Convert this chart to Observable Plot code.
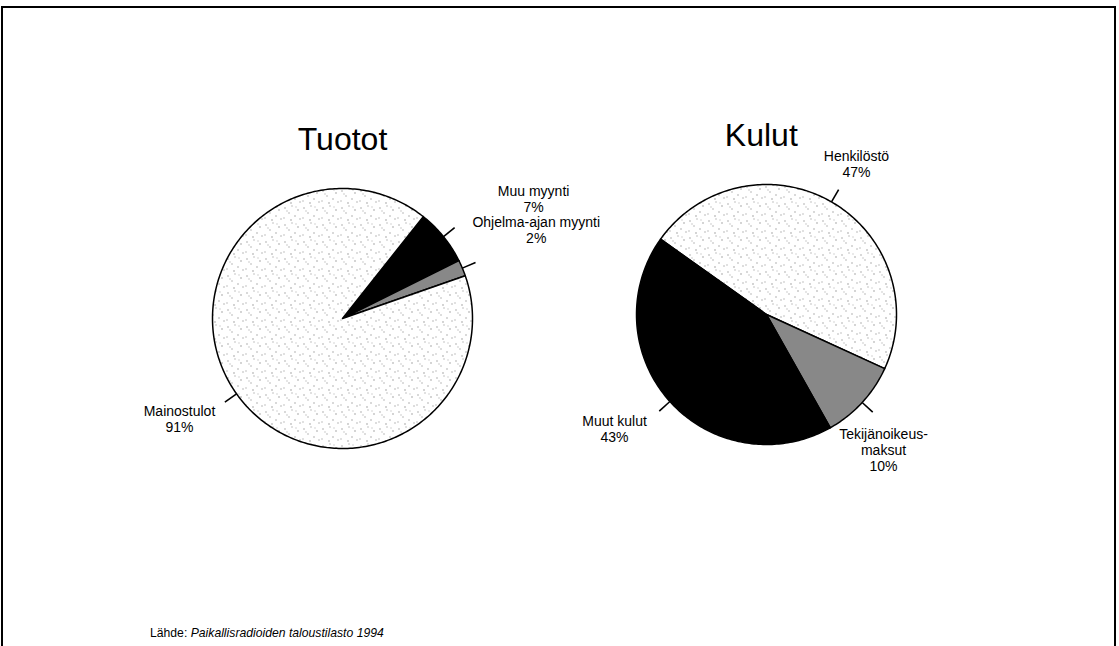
<!DOCTYPE html>
<html>
<head>
<meta charset="utf-8">
<script src="https://cdn.jsdelivr.net/npm/d3@7"></script>
<script src="https://cdn.jsdelivr.net/npm/@observablehq/plot@0.6"></script>
<style>
  html, body { margin: 0; padding: 0; background: #fff; }
  body { width: 1119px; height: 646px; overflow: hidden; position: relative; font-family: "Liberation Sans", Arial, sans-serif; }
  #frame { position: absolute; left: 1px; top: 6px; width: 1115px; height: 700px; border: 2px solid #000; border-bottom: none; box-sizing: border-box; }
  .pie { position: absolute; }
  #caption { position: absolute; left: 150px; top: 626px; font-size: 12.2px; color: #000; white-space: nowrap; }
</style>
</head>
<body>
<svg width="0" height="0" style="position:absolute">
  <defs>
    <pattern id="dots" width="19" height="17" patternUnits="userSpaceOnUse">
      <rect width="19" height="17" fill="#fff"/>
      <rect x="2" y="3" width="1" height="1" fill="#666"/>
      <rect x="9" y="1" width="1" height="1" fill="#888"/>
      <rect x="15" y="5" width="1" height="1" fill="#555"/>
      <rect x="6" y="8" width="1" height="1" fill="#777"/>
      <rect x="12" y="11" width="1" height="1" fill="#666"/>
      <rect x="1" y="13" width="1" height="1" fill="#888"/>
      <rect x="17" y="14" width="1" height="1" fill="#777"/>
      <rect x="8" y="15" width="1" height="1" fill="#555"/>
      <rect x="4" y="6" width="1" height="1" fill="#999"/>
      <rect x="13" y="2" width="1" height="1" fill="#aaa"/>
    </pattern>
    <pattern id="hatch" width="2" height="2" patternUnits="userSpaceOnUse">
      <rect width="2" height="2" fill="#d0d0d0"/>
      <rect x="0" y="0" width="1" height="1" fill="#2a2a2a"/>
      <rect x="1" y="1" width="1" height="1" fill="#555"/>
    </pattern>
  </defs>
</svg>
<div id="frame"></div>
<div id="caption">Lähde: <i>Paikallisradioiden taloustilasto 1994</i></div>
<script>
// ---- data ----
const chartTitles = ["Tuotot", "Kulut"];
const tuototNames = ["Muu myynti", "Ohjelma-ajan myynti", "Mainostulot"];
const tuototValues = [7, 2, 91];
const kulutNames = ["Henkilöstö", "Tekijänoikeus-\nmaksut", "Muut kulut"];
const kulutValues = [47, 10, 43];

// ---- layout / style (not data) ----
const pieLayout = [
  { left: 130, top: 0, start: 38.4, titleX: 0, fills: ["solid", "hatch", "dots"],
    labels: [[1.47, 1.03], [1.49, 0.79], [-1.254, -0.662]] },
  { left: 554, top: -4, start: 305.4, titleX: -0.04, fills: ["dots", "hatch", "solid"],
    labels: [[0.692, 1.269], [0.90, -0.869], [-1.169, -0.769]] }
];

function makePie(title, names, values, cfg) {
  const rad = d => d * Math.PI / 180;
  const items = names.map((n, i) => ({ name: n, value: values[i], kind: cfg.fills[i], lx: cfg.labels[i][0], ly: cfg.labels[i][1] }));
  const arcs = d3.pie().sort(null).value(d => d.value)
    .startAngle(rad(cfg.start)).endAngle(rad(cfg.start) + 2 * Math.PI)(items);
  const slices = arcs.map(a => ({ ...a.data, a0: a.startAngle, a1: a.endAngle, mid: (a.startAngle + a.endAngle) / 2 }));
  const pts = slices.flatMap(s => {
    const n = Math.max(2, Math.ceil((s.a1 - s.a0) / rad(1)));
    const p = [{ name: s.name, kind: s.kind, x: 0, y: 0 }];
    for (let k = 0; k <= n; k++) {
      const t = s.a0 + (s.a1 - s.a0) * k / n;
      p.push({ name: s.name, kind: s.kind, x: Math.sin(t), y: Math.cos(t) });
    }
    p.push({ name: s.name, kind: s.kind, x: 0, y: 0 });
    return p;
  });
  const svg = Plot.plot({
    width: 424, height: 646,
    marginLeft: 82, marginRight: 82, marginTop: 188, marginBottom: 198,
    x: { domain: [-1, 1], axis: null },
    y: { domain: [-1, 1], axis: null },
    color: { type: "ordinal", domain: ["dots", "solid", "hatch"], range: ["url(#dots)", "#000", "url(#hatch)"] },
    style: { overflow: "visible", background: "transparent", fontFamily: "'Liberation Sans', Arial, sans-serif", color: "#000" },
    marks: [
      Plot.line(pts, { x: "x", y: "y", z: "name", fill: "kind", stroke: "#000", strokeWidth: 1.5, strokeLinejoin: "round" }),
      Plot.link(slices, {
        x1: d => Math.sin(d.mid), y1: d => Math.cos(d.mid),
        x2: d => 1.11 * Math.sin(d.mid), y2: d => 1.11 * Math.cos(d.mid),
        stroke: "#000", strokeWidth: 1.6
      }),
      Plot.text(slices, {
        x: "lx", y: "ly", text: d => `${d.name}\n${d.value}%`,
        fontSize: 14, lineAnchor: "top", lineHeight: 1.15, textAnchor: "middle", fill: "#000"
      }),
      Plot.text([title], { x: cfg.titleX, y: 1.30, text: d => d, fontSize: 32, lineAnchor: "bottom", textAnchor: "middle", fill: "#000" })
    ]
  });
  svg.classList.add("pie");
  svg.style.left = cfg.left + "px";
  svg.style.top = cfg.top + "px";
  document.body.appendChild(svg);
}

makePie(chartTitles[0], tuototNames, tuototValues, pieLayout[0]);
makePie(chartTitles[1], kulutNames, kulutValues, pieLayout[1]);
</script>
</body>
</html>
